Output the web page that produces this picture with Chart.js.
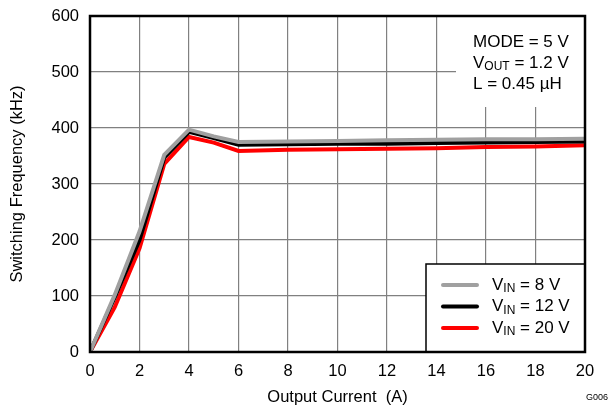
<!DOCTYPE html>
<html>
<head>
<meta charset="utf-8">
<script src="https://cdn.jsdelivr.net/npm/chart.js@4/dist/chart.umd.min.js"></script>
<style>
  html, body { margin: 0; padding: 0; background: #fff; }
  #wrap { width: 613px; height: 409px; position: relative; }
</style>
</head>
<body>
<div id="wrap"><canvas id="myChart" width="613" height="409"></canvas></div>
<script>
var current = [0, 1, 2, 3, 4, 5, 6, 8, 10, 12, 14, 16, 18, 20];
var freqVin8 = [0, 102, 215, 352, 397, 385, 375, 376, 377, 378, 379, 380, 380, 381];
var freqVin12 = [0, 98, 200, 347, 393, 382, 370, 371, 372, 372, 373, 374, 375, 376];
var freqVin20 = [0, 80, 185, 336, 384, 374, 359, 361, 362, 363, 364, 366, 367, 369];
var seriesNames = ["8 V", "12 V", "20 V"];
var seriesColors = ["#a0a0a0", "#000000", "#ff0000"];

var FONT = "Liberation Sans, Arial, Helvetica, sans-serif";

function toPoints(ys) {
  var pts = [];
  for (var i = 0; i < current.length; i++) {
    pts.push({ x: current[i], y: ys[i] });
  }
  return pts;
}

// text with a subscript part, e.g. V + IN + " = 8 V"
function subText(ctx, x, y, main, sub, rest, size) {
  ctx.font = size + "px " + FONT;
  ctx.fillText(main, x, y);
  x += ctx.measureText(main).width;
  ctx.font = Math.round(size * 0.72) + "px " + FONT;
  ctx.fillText(sub, x, y + 4);
  x += ctx.measureText(sub).width;
  ctx.font = size + "px " + FONT;
  ctx.fillText(rest, x, y);
}

var overlay = {
  id: "overlay",
  beforeDatasetsDraw: function (chart) {
    var ctx = chart.ctx;
    var a = chart.chartArea;
    ctx.save();
    // blank area behind the condition notes
    ctx.fillStyle = "#fff";
    ctx.fillRect(456, a.top, a.right - 456, 107 - a.top);
    ctx.restore();
  },
  afterDatasetsDraw: function (chart) {
    var ctx = chart.ctx;
    var a = chart.chartArea;
    ctx.save();
    ctx.textBaseline = "middle";
    ctx.textAlign = "left";
    ctx.fillStyle = "#000";
    ctx.font = "17px " + FONT;
    ctx.fillText("MODE = 5 V", 473, 42);
    subText(ctx, 473, 63, "V", "OUT", " = 1.2 V", 17);
    ctx.font = "17px " + FONT;
    ctx.fillText("L = 0.45 \u00b5H", 473, 84);

    // legend box
    var lx = 426, ly = 264;
    ctx.fillStyle = "#fff";
    ctx.fillRect(lx, ly, a.right - lx, a.bottom - ly);
    ctx.strokeStyle = "#000";
    ctx.lineWidth = 1.5;
    ctx.strokeRect(lx, ly, a.right - lx, a.bottom - ly);
    for (var i = 0; i < seriesNames.length; i++) {
      var y = 285 + i * 21.5;
      ctx.strokeStyle = seriesColors[i];
      ctx.lineWidth = 4;
      ctx.lineCap = "round";
      ctx.beginPath();
      ctx.moveTo(443, y);
      ctx.lineTo(477, y);
      ctx.stroke();
      ctx.fillStyle = "#000";
      subText(ctx, 492, y, "V", "IN", " = " + seriesNames[i], 17);
    }

    // plot frame
    ctx.strokeStyle = "#000";
    ctx.lineWidth = 2.5;
    ctx.lineCap = "butt";
    ctx.strokeRect(a.left, a.top, a.right - a.left, a.bottom - a.top);

    ctx.font = "9px " + FONT;
    ctx.textAlign = "right";
    ctx.fillText("G006", 608, 398);
    ctx.restore();
  }
};

new Chart("myChart", {
  type: "line",
  data: {
    datasets: [
      { label: "VIN = 8 V", data: toPoints(freqVin8), borderColor: seriesColors[0], borderWidth: 4 },
      { label: "VIN = 12 V", data: toPoints(freqVin12), borderColor: seriesColors[1], borderWidth: 4 },
      { label: "VIN = 20 V", data: toPoints(freqVin20), borderColor: seriesColors[2], borderWidth: 4 }
    ]
  },
  options: {
    responsive: false,
    animation: false,
    events: [],
    layout: { padding: { top: 16, right: 28, left: 0, bottom: 0 } },
    elements: { point: { radius: 0 }, line: { tension: 0, borderJoinStyle: "miter" } },
    plugins: { legend: { display: false }, tooltip: { enabled: false } },
    scales: {
      x: {
        type: "linear",
        min: 0, max: 20,
        ticks: { stepSize: 2, color: "#000", font: { family: FONT, size: 16.5 }, padding: 10, maxRotation: 0 },
        grid: { color: "#808080", lineWidth: 1.2, drawTicks: false },
        border: { display: false },
        title: { display: true, text: "Output Current  (A)", color: "#000", font: { family: FONT, size: 16.5 }, padding: { top: 2, bottom: 2 } },
        afterFit: function (s) { s.height = 57; }
      },
      y: {
        min: 0, max: 600,
        ticks: { stepSize: 100, color: "#000", font: { family: FONT, size: 16.5 }, padding: 11 },
        grid: { color: "#808080", lineWidth: 1.2, drawTicks: false },
        border: { display: false },
        title: { display: true, text: "Switching Frequency (kHz)", color: "#000", font: { family: FONT, size: 16.5 }, padding: { top: 8, bottom: 4 } },
        afterFit: function (s) { s.width = 90; s.paddingTop = 0; s.paddingBottom = 0; }
      }
    }
  },
  plugins: [overlay]
});
</script>
</body>
</html>
